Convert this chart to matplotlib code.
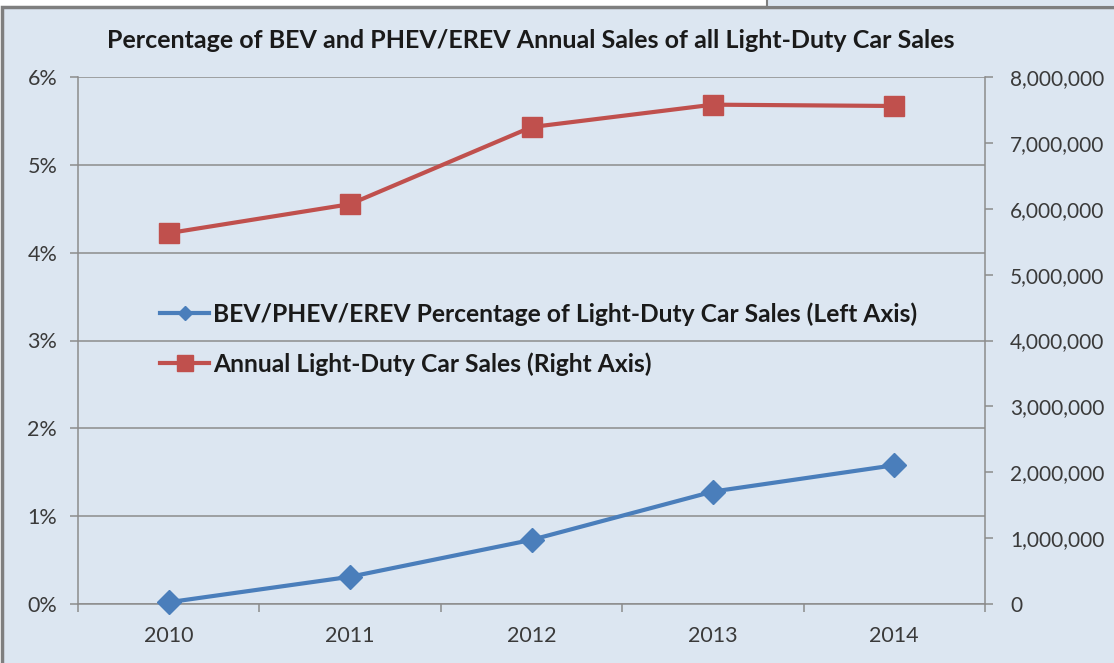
import numpy as np
import matplotlib.pyplot as plt
from matplotlib.patches import Rectangle
from matplotlib.ticker import FuncFormatter

# datos
years = ['2010', '2011', '2012', '2013', '2014']
pct_ev = [0.02, 0.31, 0.73, 1.28, 1.58]
sales = [5630000, 6070000, 7240000, 7580000, 7560000]
left_ticks = [0, 1, 2, 3, 4, 5, 6]
right_ticks = [0, 1000000, 2000000, 3000000, 4000000, 5000000, 6000000, 7000000, 8000000]

azul = '#4a7ebb'
rojo = '#c0504d'
fondo = '#dce6f1'
gris = '#8c8c8c'
texto = '#3a3a3a'

plt.rcParams['font.family'] = ['Lato', 'DejaVu Sans']

fig = plt.figure(figsize=(11.14, 6.63), dpi=100, facecolor='white')
# marco del grafico (recorte de pantalla)
fig.patches.append(Rectangle((0.002, -0.01), 1.0, 1 - 7/663 + 0.01, transform=fig.transFigure,
                             facecolor=fondo, edgecolor='#7f7f7f', lw=2.5, zorder=-2))
fig.patches.append(Rectangle((767/1114, 1 - 7/663), 1.0, 0.02, transform=fig.transFigure,
                             facecolor=fondo, edgecolor='#7f7f7f', lw=1.5, zorder=-2))

ax = fig.add_axes([78/1114, 1 - 604/663, 907/1114, 527/663])
ax.patch.set_alpha(0)
x = np.arange(len(years))

ax.set_xlim(-0.5, 4.5)
ax.set_ylim(0, 6)
ax.set_yticks(left_ticks)
ax.set_yticklabels([str(t) + '%' for t in left_ticks])
ax.grid(axis='y', color=gris, lw=1.1)
ax.set_axisbelow(True)
ax.set_xticks(x)
ax.set_xticklabels(years)
ax.set_xticks(np.arange(-0.5, 5, 1), minor=True)
ax.tick_params(axis='x', which='major', length=0, pad=16, labelsize=15.5, labelcolor=texto)
ax.tick_params(axis='x', which='minor', length=5.5, color=gris, width=1.1)
ax.tick_params(axis='y', length=6, color=gris, width=1.1, pad=9, labelsize=15.5, labelcolor=texto)
for s in ['top', 'right']:
    ax.spines[s].set_visible(False)
ax.spines['left'].set_color(gris)
ax.spines['bottom'].set_color(gris)
ax.spines['left'].set_linewidth(1.1)
ax.spines['bottom'].set_linewidth(1.1)

ax2 = ax.twinx()
ax2.set_ylim(0, 8000000)
ax2.set_yticks(right_ticks)
ax2.yaxis.set_major_formatter(FuncFormatter(lambda v, p: '{:,.0f}'.format(v)))
ax2.tick_params(axis='y', length=6, color=gris, width=1.1, pad=12, labelsize=15, labelcolor=texto)
for s in ['top', 'left', 'bottom']:
    ax2.spines[s].set_visible(False)
ax2.spines['right'].set_color(gris)
ax2.spines['right'].set_linewidth(1.1)

l1, = ax2.plot(x, np.array(pct_ev) / 6 * 8000000, color=azul, lw=3, marker='D', ms=12,
               label='BEV/PHEV/EREV Percentage of Light-Duty Car Sales (Left Axis)', clip_on=False, zorder=5)
l2, = ax2.plot(x, sales, color=rojo, lw=3, marker='s', ms=15,
               label='Annual Light-Duty Car Sales (Right Axis)', clip_on=False, zorder=5)

# marcadores pequeños en la leyenda
h1 = plt.Line2D([], [], color=azul, lw=3, marker='D', ms=7)
h2 = plt.Line2D([], [], color=rojo, lw=3, marker='s', ms=11)
leg = ax2.legend([h1, h2], [l1.get_label(), l2.get_label()], loc='upper left',
                 bbox_to_anchor=(0.066, 0.615), frameon=False, handlelength=2.0,
                 handletextpad=0.15, labelspacing=1.08, prop={'size': 17.7, 'weight': 'bold'})
for t in leg.get_texts():
    t.set_color('#1a1a1a')

fig.text(531/1114, 1 - 40/663, 'Percentage of BEV and PHEV/EREV Annual Sales of all Light-Duty Car Sales',
         ha='center', va='center', fontsize=18, fontweight='bold', color='#1a1a1a')

fig.savefig('out.png', dpi=100, facecolor=fig.get_facecolor())
